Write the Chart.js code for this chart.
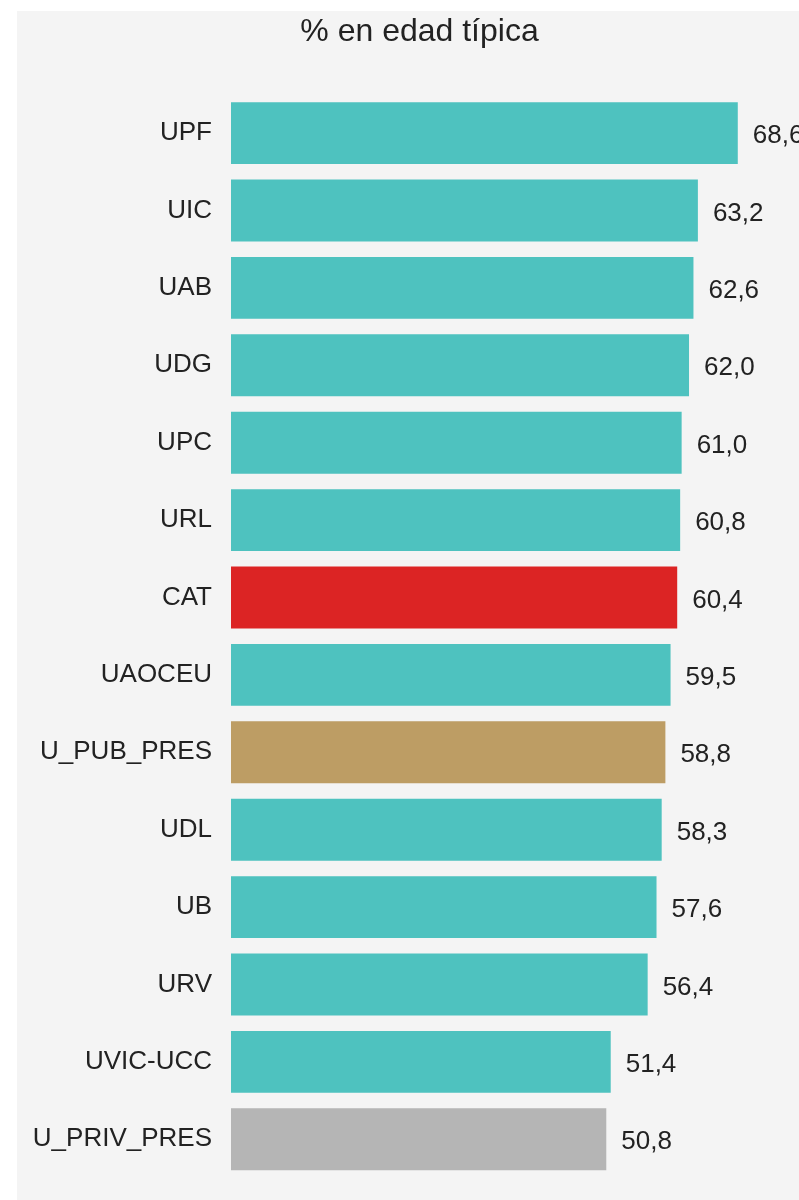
<!DOCTYPE html>
<html>
<head>
<meta charset="utf-8">
<script src="https://cdn.jsdelivr.net/npm/chart.js@4"></script>
<style>
  html, body { margin: 0; padding: 0; background: #ffffff; overflow: hidden; }
  #wrap { position: absolute; left: 17px; top: 11px; width: 805px; height: 1189px; background: #f4f4f4; }
  #grafico { display: block; }
</style>
</head>
<body>
<div id="wrap"><canvas id="grafico" width="805" height="1189"></canvas></div>
<script>
// datos
var universidades = ['UPF', 'UIC', 'UAB', 'UDG', 'UPC', 'URL', 'CAT', 'UAOCEU', 'U_PUB_PRES', 'UDL', 'UB', 'URV', 'UVIC-UCC', 'U_PRIV_PRES'];
var porcentajes = [68.6, 63.2, 62.6, 62.0, 61.0, 60.8, 60.4, 59.5, 58.8, 58.3, 57.6, 56.4, 51.4, 50.8];

var TEAL = '#4ec2bf';
var colores = universidades.map(function (u) {
  if (u === 'CAT') return '#dc2424';
  if (u === 'U_PUB_PRES') return '#bd9d64';
  if (u === 'U_PRIV_PRES') return '#b5b5b5';
  return TEAL;
});

var fuente = "Arial, 'Liberation Sans', sans-serif";

// etiquetas de valor al final de cada barra
var etiquetasValor = {
  id: 'etiquetasValor',
  afterDatasetsDraw: function (chart) {
    var ctx = chart.ctx;
    var meta = chart.getDatasetMeta(0);
    ctx.save();
    ctx.font = '26px ' + fuente;
    ctx.fillStyle = '#222222';
    ctx.textAlign = 'left';
    ctx.textBaseline = 'middle';
    meta.data.forEach(function (bar, i) {
      var txt = porcentajes[i].toFixed(1).replace('.', ',');
      ctx.fillText(txt, bar.x + 15, bar.y + 3);
    });
    ctx.restore();
  }
};

var lienzo = document.getElementById('grafico').getContext('2d');
var grafico = new Chart(lienzo, {
  type: 'bar',
  data: {
    labels: universidades,
    datasets: [{
      data: porcentajes,
      backgroundColor: colores,
      borderWidth: 0,
      categoryPercentage: 1,
      barPercentage: 0.8
    }]
  },
  options: {
    indexAxis: 'y',
    responsive: false,
    animation: false,
    layout: { padding: { left: 0, right: 0, top: 0, bottom: 22 } },
    plugins: {
      legend: { display: false },
      tooltip: { enabled: false },
      title: {
        display: true,
        text: '% en edad típica',
        color: '#222222',
        font: { family: fuente, size: 32, weight: 'normal' },
        padding: { top: 2, bottom: 43 }
      }
    },
    scales: {
      x: {
        display: false,
        min: 0,
        max: 80
      },
      y: {
        grid: { display: false, drawTicks: false },
        border: { display: false },
        ticks: {
          color: '#222222',
          padding: 19,
          font: { family: fuente, size: 26 }
        },
        afterFit: function (scale) {
          scale.width = 214;
          scale.paddingTop = 0;
          scale.paddingBottom = 0;
        }
      }
    }
  },
  plugins: [etiquetasValor]
});
</script>
</body>
</html>
